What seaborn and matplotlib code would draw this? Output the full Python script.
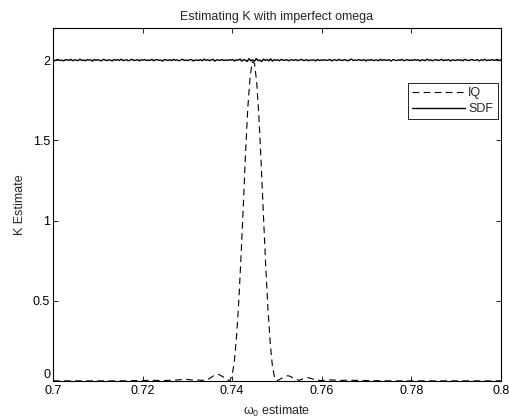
import numpy as np
import pandas as pd
import matplotlib
matplotlib.use("Agg")
import matplotlib.pyplot as plt
import seaborn as sns

# IQ estimate (dashed)
iq_x = [0.700, 0.705, 0.710, 0.715, 0.720, 0.722, 0.724, 0.726, 0.728, 0.7295,
        0.731, 0.733, 0.734, 0.735, 0.736, 0.737, 0.738, 0.739, 0.7395,
        0.7400, 0.7405, 0.7410, 0.7415, 0.7420, 0.7425, 0.7430, 0.7435, 0.7440,
        0.7445, 0.7450, 0.7455, 0.7460, 0.7465, 0.7470, 0.7475, 0.7480, 0.7485,
        0.7490, 0.7495, 0.7500, 0.751, 0.752, 0.7525, 0.753, 0.754, 0.755,
        0.756, 0.757, 0.758, 0.759, 0.760, 0.762, 0.764, 0.766, 0.770, 0.775,
        0.780, 0.785, 0.790, 0.795, 0.800]
iq_y = [0.0, 0.0, 0.0, 0.0, 0.002, 0.004, 0.002, 0.003, 0.006, 0.010,
        0.006, 0.004, 0.003, 0.015, 0.035, 0.040, 0.025, 0.006, 0.0,
        0.035, 0.12, 0.28, 0.50, 0.78, 1.09, 1.42, 1.70, 1.89,
        1.99, 1.98, 1.86, 1.64, 1.35, 1.03, 0.72, 0.45, 0.24,
        0.09, 0.02, 0.0, 0.015, 0.030, 0.032, 0.028, 0.012, 0.003,
        0.015, 0.020, 0.012, 0.004, 0.002, 0.006, 0.003, 0.004, 0.002, 0.0,
        0.0, 0.0, 0.0, 0.0, 0.0]

# SDF estimate: small ripple around 2 (in thousandths)
sdf_dev_milli = [
    2, -3, 1, 4, -2, 0, -5, 3, 1, -1, 5, -4, 2, 0, -3, 6, -2, 1, -4, 3, 0, 2, -6, 4, -1,
    3, -2, -4, 5, 1, -3, 2, 0, -5, 4, -1, 3, -2, 6, -3, 0, 2, -4, 1, 5, -2, -1, 3, -5, 2,
    0, 4, -3, 1, -2, 5, -4, 2, 3, -1, 0, -6, 4, 1, -2, 3, -3, 5, -1, 2, -4, 0, 6, -2, 1,
    -3, 2, 4, -5, 1, 0, -2, 3, -4, 6, -1, 2, -3, 1, 5, -6, 2, 0, -1, 4, -3, 1, -2, 3, 0,
    4, -5, 2, -1, 7, -6, 3, 0, -8, 9, -4, 2, -7, 10, -3, 1, -9, 6, -2, 4, -5, 8, -6, 3, -1,
    2, -3, 5, -1, 0, 3, -4, 1, 2, -2, 4, -3, 0, 5, -1, -2, 3, -4, 1, 0, 2, -5, 4, -2, 1,
    -1, 3, -2, 0, 4, -5, 2, 1, -3, 5, -1, -2, 3, 0, -4, 2, 6, -3, 1, -2, 4, -1, 0, 3, -5,
    2, -1, 4, -3, 0, 1, -4, 5, -2, 3, -1, 0, 2, -6, 4, 1, -3, 2, -1, 5, -4, 0, 3, -2, 1,
    -2, 4, -1, 3, -5, 2, 0, -3, 6, -1, 2, -4, 1, 3, -2, 0, 5, -3, 1, -1, 4, -6, 2, 0, -2,
    3, -1, 2, -4, 5, 0, -3, 1, 4, -2, 0, 3, -5, 2, -1, 6, -3, 1, -2, 4, -1, 0, 5, -3, 2,
]
sdf_x = np.linspace(0.7, 0.8, len(sdf_dev_milli))
sdf_y = 2.0 + np.array(sdf_dev_milli) / 1000.0

iq_df = pd.DataFrame({"omega": iq_x, "K": iq_y})
sdf_df = pd.DataFrame({"omega": sdf_x, "K": sdf_y})

sns.set_style("ticks")
plt.rcParams["font.family"] = ["Liberation Sans", "DejaVu Sans"]
plt.rcParams["mathtext.default"] = "regular"
plt.rcParams["xtick.direction"] = "in"
plt.rcParams["ytick.direction"] = "in"

fig = plt.figure(figsize=(5.09, 4.19), dpi=100)
ax = fig.add_axes([0.104, 0.091, 0.880, 0.842])

sns.lineplot(data=iq_df, x="omega", y="K", ax=ax, color="black", linewidth=0.8,
             linestyle=(0, (6, 4)), label="IQ")
sns.lineplot(data=sdf_df, x="omega", y="K", ax=ax, color="black", linewidth=1.0,
             label="SDF")

ax.set_xlim(0.7, 0.8)
ax.set_ylim(0, 2.2)
ax.set_xticks([0.7, 0.72, 0.74, 0.76, 0.78, 0.8])
ax.set_xticklabels(["0.7", "0.72", "0.74", "0.76", "0.78", "0.8"])
ax.set_yticks([0, 0.5, 1, 1.5, 2])
ax.set_yticklabels(["0", "0.5", "1", "1.5", "2"])
ax.tick_params(axis="both", labelsize=9, length=3.5, width=0.6,
               top=True, right=True, colors="black")
ax.tick_params(axis="x", pad=3)
ax.tick_params(axis="y", pad=2)
# MATLAB lifts the bottom y label so it clears the x labels
ax.get_yticklabels()[0].set_verticalalignment("bottom")
for s in ax.spines.values():
    s.set_linewidth(0.8)
    s.set_color("black")

ax.set_title("Estimating K with imperfect omega", fontsize=9, pad=6)
ax.set_xlabel(r"$\omega_0$ estimate", fontsize=9, labelpad=5)
ax.set_ylabel("K Estimate", fontsize=9, labelpad=5)

leg = ax.legend(loc="upper right", bbox_to_anchor=(0.993, 0.845), fontsize=9,
                frameon=True, fancybox=False, shadow=False, framealpha=1,
                edgecolor="black", handlelength=4.2, handletextpad=0.3,
                borderpad=0.35, labelspacing=0.3, borderaxespad=0)
leg.get_frame().set_linewidth(0.6)

plt.savefig("out.png", dpi=100)
